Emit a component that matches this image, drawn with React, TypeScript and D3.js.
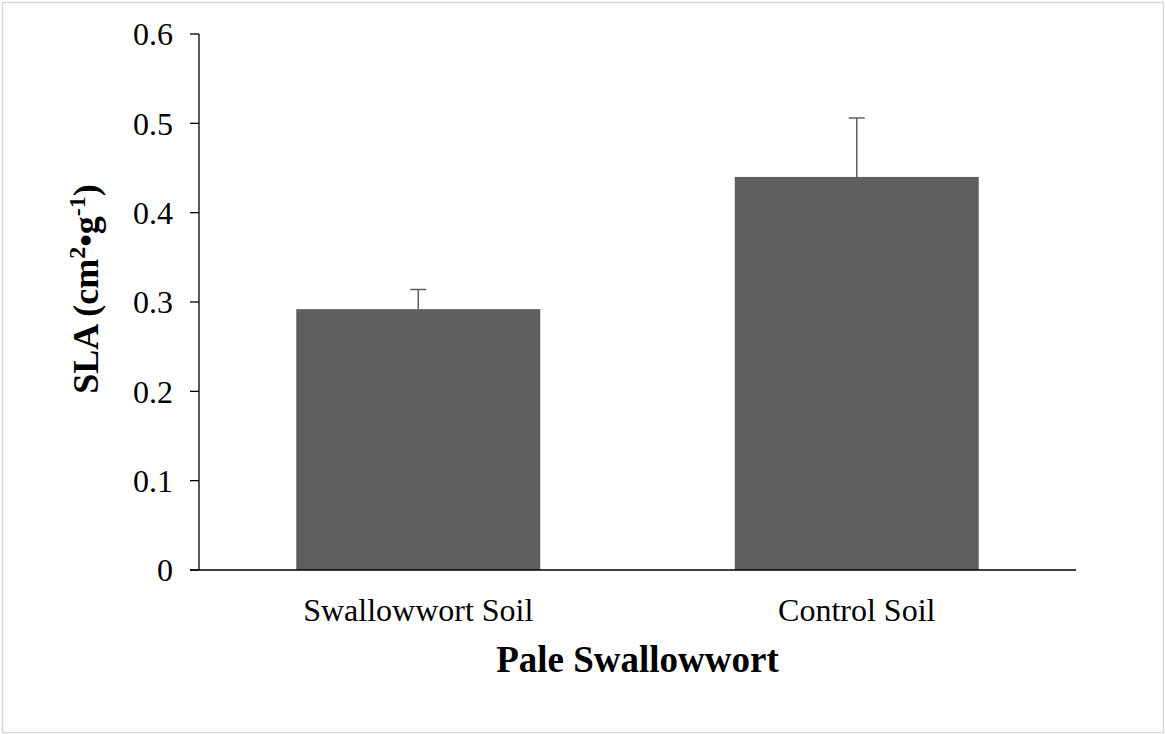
import React from "react";
import * as d3 from "d3";

const categories = ["Swallowwort Soil", "Control Soil"];
const values = [0.292, 0.44];
const errors = [0.022, 0.066];
const yTicks = [0, 0.1, 0.2, 0.3, 0.4, 0.5, 0.6];
const yTickLabels = ["0", "0.1", "0.2", "0.3", "0.4", "0.5", "0.6"];
const xTitle = "Pale Swallowwort";

const W = 1165;
const H = 734;
const left = 199;
const right = 1076;
const top = 34;
const bottom = 570;
const FONT = "'Liberation Serif', 'Times New Roman', serif";

export default function App() {
  const x = d3
    .scaleBand<string>()
    .domain(categories)
    .range([left, right])
    .paddingInner(0.4436)
    .paddingOuter(0.2218);
  const y = d3.scaleLinear().domain([0, 0.6]).range([bottom, top]);
  const barColor = "#5f5f5f";
  const errColor = "#5f5f5f";

  return (
    <svg
      width={W}
      height={H}
      style={{ position: "absolute", left: 0, top: 0, background: "#fff" }}
      fontFamily={FONT}
    >
      <rect x={2.5} y={2.5} width={W - 4} height={H - 4} fill="#fff" stroke="#d9d9d9" strokeWidth={1.5} />
      {categories.map((c, i) => (
        <rect
          key={c}
          x={x(c)}
          y={y(values[i])}
          width={x.bandwidth()}
          height={y(0) - y(values[i])}
          fill={barColor}
        />
      ))}
      {categories.map((c, i) => {
        const cx = (x(c) as number) + x.bandwidth() / 2;
        const y0 = y(values[i]);
        const y1 = y(values[i] + errors[i]);
        return (
          <g key={"e" + c} stroke={errColor} strokeWidth={1.5}>
            <line x1={cx} x2={cx} y1={y0} y2={y1} />
            <line x1={cx - 8} x2={cx + 8} y1={y1} y2={y1} />
          </g>
        );
      })}
      {/* axes */}
      <line x1={left} x2={left} y1={top} y2={bottom} stroke="#000" strokeWidth={1.3} />
      <line x1={190} x2={right} y1={bottom} y2={bottom} stroke="#000" strokeWidth={1.3} />
      {yTicks.map((t, i) => (
        <g key={"t" + t}>
          <line x1={190} x2={left} y1={y(t)} y2={y(t)} stroke="#000" strokeWidth={1.3} />
          <text
            x={173}
            y={y(t)}
            dy="0.35em"
            textAnchor="end"
            fontSize={32}
            fill="#000"
          >
            {yTickLabels[i]}
          </text>
        </g>
      ))}
      {categories.map((c) => (
        <text
          key={"l" + c}
          x={(x(c) as number) + x.bandwidth() / 2}
          y={621}
          textAnchor="middle"
          fontSize={32}
          fill="#000"
        >
          {c}
        </text>
      ))}
      <text x={(left + right) / 2} y={672} textAnchor="middle" fontSize={37} fontWeight="bold" fill="#000">
        {xTitle}
      </text>
      <text
        transform="translate(98,289) rotate(-90)"
        textAnchor="middle"
        fontSize={36}
        fontWeight="bold"
        fill="#000"
      >
        SLA (cm
        <tspan fontSize={24} dy={-13}>2</tspan>
        <tspan dy={13}>•g</tspan>
        <tspan fontSize={24} dy={-13}>-1</tspan>
        <tspan dy={13}>)</tspan>
      </text>
    </svg>
  );
}
